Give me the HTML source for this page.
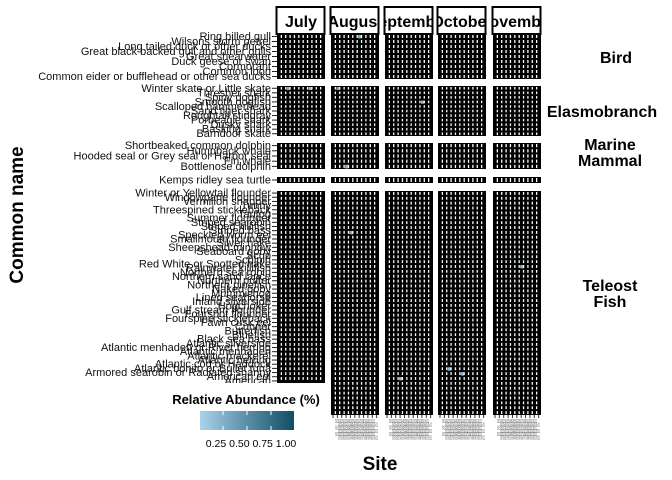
<!DOCTYPE html>
<html><head><meta charset="utf-8"><style>
body{margin:0;background:#fff;}
svg{display:block;font-family:"Liberation Sans",sans-serif;}
</style></head><body>
<svg id="chart" width="672" height="480">
<defs id="defs"><linearGradient id="lg" x1="0" x2="1"><stop offset="0" stop-color="#a9d3eb"/><stop offset="0.5" stop-color="#5a8ea7"/><stop offset="1" stop-color="#124e66"/></linearGradient></defs>
<g id="panels"></g>
<g id="ylabels"></g>
<text x="0" y="0" transform="translate(23,215) rotate(-90)" text-anchor="middle" font-size="19" font-weight="bold">Common name</text>
<text x="380" y="470" text-anchor="middle" font-size="19" font-weight="bold">Site</text>
<g>
<rect x="165" y="383" width="160" height="75" fill="#fff"/>
<text x="246" y="404" text-anchor="middle" font-size="13" font-weight="bold">Relative Abundance (%)</text>
<rect x="200" y="411" width="94" height="19" fill="url(#lg)"/>
<g stroke="#fff" stroke-width="1"><line x1="223" y1="411" x2="223" y2="415"/><line x1="247" y1="411" x2="247" y2="415"/><line x1="271" y1="411" x2="271" y2="415"/><line x1="223" y1="426" x2="223" y2="430"/><line x1="247" y1="426" x2="247" y2="430"/><line x1="271" y1="426" x2="271" y2="430"/></g>
<text x="251" y="447" text-anchor="middle" font-size="10.5">0.25 0.50 0.75 1.00</text>
</g>
</svg>
<script>
const months=["July","August","September","October","November"];
const groups=["Bird","Elasmobranch","Marine Mammal","Kemps","Teleost Fish"];
const birds=["Ring billed gull","Wilsons storm petrel","Long tailed duck or other ducks","Great black backed gull and other gulls","Great shearwater","Duck geese or swan","Cormorant","Common loon","Common eider or bufflehead or other sea ducks"];
const elasmo=["Winter skate or Little skate","Thresher shark","Spiny dogfish","Smooth dogfish","Scalloped hammerhead","Sand tiger shark","Roughtail stingray","Porbeagle shark","Dusky shark","Basking shark","Barndoor skate"];
const mammals=["Shortbeaked common dolphin","Humpback whale","Hooded seal or Grey seal or Harbor seal","Fin whale","Bottlenose dolphin"];
const turtles=["Kemps ridley sea turtle"];
const teleost=["Winter or Yellowtail flounder","Windowpane flounder","Vermilion snapper","Tunny","Threespined stickleback","Tautog","Summer flounder","Striped searobin","Striped killifish","Striped bass","Speckled worm eel","Smallmouth flounder","Silver hake","Sheepshead minnow","Seaboard goby","Scup","Sculpin","Red White or Spotted hake","Rainwater killifish","Northern sea robin","Northern sand lance","Northern puffer","Northern pipefish","Naked goby","Mummichog","Lined seahorse","Inland silverside","Hogchoker","Gulf stream flounder","Fourspot flounder","Fourspine stickleback","Fawn cusk eel","Cunner","Butterfish","Bluefish","Black sea bass","Atlantic silverside","Atlantic menhaden or River herring","Atlantic menhaden","Atlantic mackerel","Atlantic herring","Atlantic cod or Haddock","Atlantic bonito or Bullet tuna","Armored searobin or Radiated shanny","American eel","American"];
const sites=["S01","S02","S03","S04","S05","S06","S07","S08","S09","S10","S11"];
// nonzero abundances: [monthIndex, groupIndex, speciesIndex, siteIndex, value]
const hits=[[0,1,0,2,0.3],[0,1,0,7,0.25],[1,0,0,6,0.3],[1,1,0,1,0.35],[1,4,8,4,0.25],[2,4,38,3,0.2],[3,4,36,2,0.2],[3,4,37,5,0.2],[4,4,15,6,0.25],[1,2,4,3,0.3],[2,1,3,8,0.2]];
const speciesByGroup=[birds,elasmo,mammals,turtles,teleost];
const groupTop=[34,86,143,177,191];
const groupBottom=[79,136,169,183,415];
const monthX=[277,331,385,438,493];
const panelW=48;
const NS="http://www.w3.org/2000/svg";
function mk(t,a,p){const e=document.createElementNS(NS,t);for(const k in a)e.setAttribute(k,a[k]);p.appendChild(e);return e;}
function color(v){const a=[169,211,235],b=[18,78,102];if(v<=0)return"#000";const t=Math.min(1,v);return`rgb(${a.map((c,i)=>Math.round(c+(b[i]-c)*t)).join(",")})`;}
const P=document.getElementById("panels"),Y=document.getElementById("ylabels"),C=document.getElementById("chart"),D=document.getElementById("defs");
function xScale(m,s){return monthX[m]+s*panelW/sites.length;}
function yScale(g,i){const n=speciesByGroup[g].length;return groupTop[g]+i*(groupBottom[g]-groupTop[g])/n;}
months.forEach((m,mi)=>{
  const cp=mk("clipPath",{id:"c"+mi},D);
  mk("rect",{x:monthX[mi],y:7,width:panelW-1,height:27},cp);
  const strip=mk("g",{},P);
  
  
  mk("rect",{x:monthX[mi]-0.5,y:7,width:panelW,height:27,fill:"#fff",stroke:"#000","stroke-width":2},strip);
  const t=mk("text",{x:monthX[mi]+panelW/2,y:27,"text-anchor":"middle","font-size":16,"font-weight":"bold","clip-path":"url(#c"+mi+")"},strip);
  t.textContent=m;
  groups.forEach((g,gi)=>{
    const sp=speciesByGroup[gi];
    const bottom=(mi===0&&gi===4)?383:groupBottom[gi];
    const pn=mk("rect",{x:monthX[mi],y:groupTop[gi],width:panelW,height:bottom-groupTop[gi],fill:"#000"},P);
    
    
    const rh=(groupBottom[gi]-groupTop[gi])/sp.length;
    sp.forEach((s,si)=>{
      const y0=yScale(gi,si);
      if(y0+rh>bottom+0.5)return;
      sites.forEach((st,ki)=>{
        const h=hits.find(q=>q[0]===mi&&q[1]===gi&&q[2]===si&&q[3]===ki);
        if(h){const c=mk("rect",{x:xScale(mi,ki)+1,y:y0+1,width:panelW/sites.length-1,height:rh-1.5,fill:color(h[4])},P);
          
          }
        if(ki>0)mk("line",{x1:xScale(mi,ki),x2:xScale(mi,ki),y1:y0+1,y2:y0+rh-1,stroke:"#fff","stroke-width":1.3},P);
      });
    });
  });
  const xt=mk("g",{fill:"#555","font-size":5.5},P);
  
  
  if(mi>0)for(let k=0;k<sites.length;k++)mk("line",{x1:xScale(mi,k)+2,x2:xScale(mi,k)+2,y1:415,y2:418,stroke:"#333"},xt);
  for(let r=0;r<6;r++){const tx=mk("text",{x:monthX[mi]+4+(r%2)*3,y:423+r*3.3,textLength:panelW-8,lengthAdjust:"spacingAndGlyphs"},xt);tx.textContent=sites.join("");}
});
groups.forEach((g,gi)=>{
  const sp=speciesByGroup[gi];
  const n=sp.length;
  const top=groupTop[gi],bot=gi===4?383:groupBottom[gi];
  sp.forEach((s,si)=>{
    const y=top+(si+0.5)*(bot-top)/n;
    mk("line",{x1:272,x2:277,y1:y,y2:y,stroke:"#222"},Y);
    const t=mk("text",{x:271,y:y+3.5,"text-anchor":"end","font-size":11,fill:"#111"},Y);
    
    
    t.textContent=s;
  });
});
const rl=[["Bird",616,63],["Elasmobranch",602,117],["Marine|Mammal",610,158],["Teleost|Fish",610,299]];
rl.forEach(([s,x,y])=>{
  const parts=s.split("|");
  parts.forEach((p,i)=>{const t=mk("text",{x:x,y:y+i*16-(parts.length-1)*8,"text-anchor":"middle","font-size":16,"font-weight":"bold"},C);
    
    
    t.textContent=p;});
});
</script>
</body></html>
